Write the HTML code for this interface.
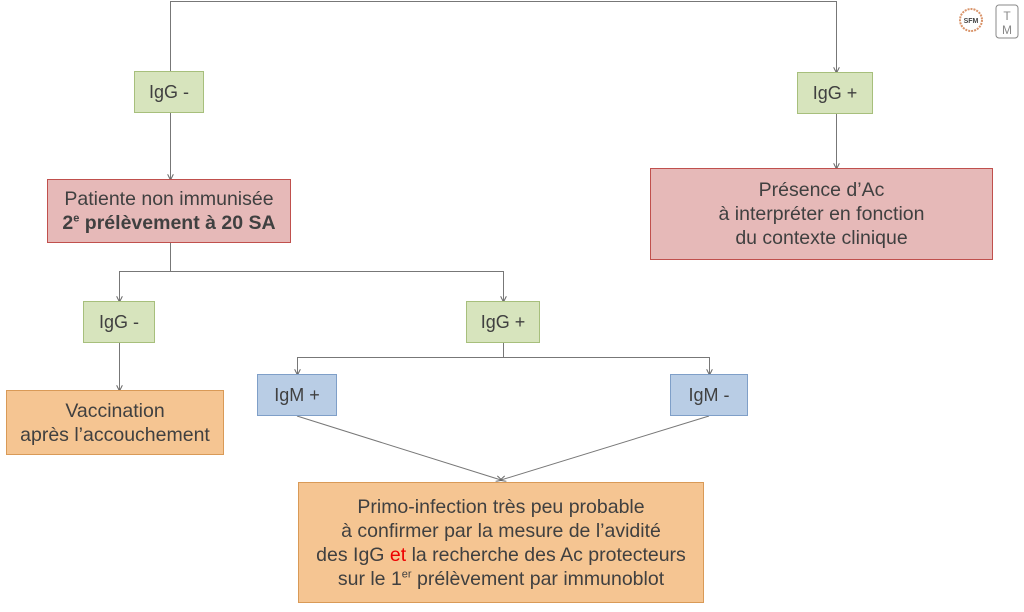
<!DOCTYPE html>
<html><head><meta charset="utf-8"><style>
body{margin:0;width:1024px;height:612px;background:#fff;position:relative;overflow:hidden;font-family:"Liberation Sans",sans-serif;color:#404040}
.b{position:absolute;box-sizing:border-box;display:flex;align-items:center;justify-content:center;text-align:center;font-size:19.5px;line-height:24px;white-space:nowrap}
.s{font-size:18px}
.g{background:#d7e4bd;border:1px solid #a7bf7c}
.p{background:#e6b9b8;border:1px solid #c0504d}
.u{background:#b9cde5;border:1px solid #7f9fc8}
.o{background:#f5c592;border:1px solid #d99a57}
sup{font-size:11px;line-height:0}
</style></head><body>
<svg width="1024" height="612" style="position:absolute;left:0;top:0">
<defs><marker id="a" markerWidth="6" markerHeight="6" refX="5" refY="3" orient="auto"><path d="M0,0 L6,3 L0,6" fill="none" stroke="#666" stroke-width="1"/></marker></defs>
<g stroke="#777" stroke-width="1" fill="none">
<path d="M170.5,71 V1.5 H836.5 V72" marker-end="url(#a)"/>
<path d="M170.5,113 V179" marker-end="url(#a)"/>
<path d="M836.5,114 V168" marker-end="url(#a)"/>
<path d="M170.5,243 V271.5"/>
<path d="M119.5,301 V271.5 H503.5 V301" marker-end="url(#a)"/>
<path d="M119.5,271.5 V301" marker-end="url(#a)"/>
<path d="M503.5,343 V357.5"/>
<path d="M297.5,374 V357.5 H709.5 V374" marker-end="url(#a)"/>
<path d="M297.5,357.5 V374" marker-end="url(#a)"/>
<path d="M119.5,343 V390" marker-end="url(#a)"/>
<path d="M297,416 L501,480" marker-end="url(#a)"/>
<path d="M709,416 L501,480" marker-end="url(#a)"/>
</g>
<circle cx="971" cy="20" r="11" fill="none" stroke="#d9946a" stroke-width="2" stroke-dasharray="2 1"/>
<text x="971" y="23" font-size="7" text-anchor="middle" font-family="Liberation Sans" font-weight="bold" fill="#444">SFM</text>
<rect x="996" y="5" width="22" height="33" rx="3" fill="none" stroke="#888"/>
<text x="1007" y="20" font-size="12" text-anchor="middle" font-family="Liberation Sans" fill="#888">T</text>
<text x="1007" y="34" font-size="12" text-anchor="middle" font-family="Liberation Sans" fill="#888">M</text>
</svg>
<div class="b g s" style="left:134px;top:71px;width:70px;height:42px"><div>IgG -</div></div>
<div class="b g s" style="left:797px;top:72px;width:76px;height:42px"><div>IgG +</div></div>
<div class="b p" style="left:47px;top:179px;width:244px;height:64px"><div>Patiente non immunisée<br><b>2<sup>e</sup> prélèvement à 20 SA</b></div></div>
<div class="b p" style="left:650px;top:168px;width:343px;height:92px"><div>Présence d’Ac<br>à interpréter en fonction<br>du contexte clinique</div></div>
<div class="b g s" style="left:83px;top:301px;width:72px;height:42px"><div>IgG -</div></div>
<div class="b g s" style="left:466px;top:301px;width:74px;height:42px"><div>IgG +</div></div>
<div class="b u s" style="left:257px;top:374px;width:80px;height:42px"><div>IgM +</div></div>
<div class="b u s" style="left:670px;top:374px;width:78px;height:42px"><div>IgM -</div></div>
<div class="b o" style="left:6px;top:390px;width:218px;height:65px"><div>Vaccination<br>après l’accouchement</div></div>
<div class="b o" style="left:298px;top:482px;width:406px;height:121px"><div>Primo-infection très peu probable<br>à confirmer par la mesure de l’avidité<br>des IgG <span style="color:#e00">et</span> la recherche des Ac protecteurs<br>sur le 1<sup>er</sup> prélèvement par immunoblot</div></div>
</body></html>
